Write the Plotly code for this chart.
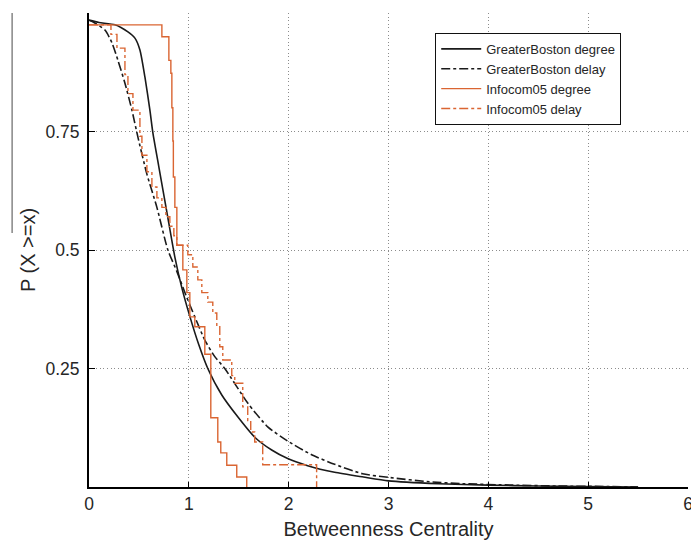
import plotly.graph_objects as go

# GreaterBoston degree (smooth curve)
gb_deg_x = [0, 0.1, 0.26, 0.39, 0.46, 0.51, 0.56, 0.61, 0.64, 0.7, 0.78, 0.86, 0.93, 1.01, 1.1, 1.19,
            1.33, 1.49, 1.66, 1.83, 1.99, 2.19, 2.46, 2.75, 3.0, 3.5, 4.0, 4.5, 5.0, 5.5]
gb_deg_y = [0.985, 0.98, 0.975, 0.96, 0.947, 0.922, 0.865, 0.795, 0.747, 0.675, 0.58, 0.485, 0.42, 0.36,
            0.30, 0.25, 0.194, 0.148, 0.105, 0.078, 0.06, 0.045, 0.031, 0.021, 0.013, 0.007, 0.004,
            0.002, 0.001, 0.0]

# GreaterBoston delay
gb_del_x = [0, 0.05, 0.16, 0.23, 0.29, 0.36, 0.43, 0.49, 0.58, 0.68, 0.79, 0.88, 0.97, 1.06, 1.16, 1.26,
            1.36, 1.59, 1.79, 1.99, 2.23, 2.46, 2.74, 3.01, 3.41, 3.74, 4.24, 4.7, 5.2, 5.5]
gb_del_y = [0.985, 0.98, 0.964, 0.937, 0.90, 0.852, 0.795, 0.738, 0.66, 0.59, 0.50, 0.455, 0.405, 0.359,
            0.31, 0.275, 0.25, 0.177, 0.127, 0.097, 0.068, 0.048, 0.028, 0.02, 0.011, 0.007, 0.004,
            0.002, 0.001, 0.0]

# Infocom05 degree (step function)
ic_deg_x = [0, 0.73, 0.80, 0.82, 0.83, 0.84, 0.845, 0.86, 0.88, 0.94, 0.98, 1.01, 1.06, 1.16, 1.22,
            1.29, 1.32, 1.38, 1.48, 1.58]
ic_deg_y = [0.975, 0.95, 0.90, 0.873, 0.80, 0.73, 0.654, 0.59, 0.51, 0.458, 0.41, 0.359, 0.338, 0.28,
            0.146, 0.095, 0.072, 0.046, 0.021, 0.0]

# Infocom05 delay (step function)
ic_del_x = [0, 0.22, 0.28, 0.36, 0.39, 0.44, 0.51, 0.53, 0.58, 0.63, 0.68, 0.73, 0.77, 0.81, 0.85, 0.88,
            0.99, 1.04, 1.09, 1.13, 1.19, 1.24, 1.28, 1.31, 1.34, 1.43, 1.46, 1.54, 1.59, 1.62, 1.66,
            1.74, 2.28]
ic_del_y = [0.975, 0.955, 0.926, 0.87, 0.83, 0.795, 0.74, 0.70, 0.665, 0.633, 0.61, 0.59, 0.57, 0.55,
            0.53, 0.51, 0.49, 0.464, 0.437, 0.41, 0.39, 0.367, 0.338, 0.296, 0.268, 0.235, 0.219, 0.169,
            0.14, 0.116, 0.095, 0.047, 0.0]

x_ticks = [0, 1, 2, 3, 4, 5, 6]
y_ticks = [0.25, 0.5, 0.75]
y_tick_labels = ["0.25", "0.5", "0.75"]

ORANGE = "#DA6532"
FONT = "Liberation Sans, Arial, sans-serif"
GRID = dict(showgrid=True, gridcolor="#8c8c8c", griddash="1px,2.6px", gridwidth=1)

fig = go.Figure()
fig.add_trace(go.Scatter(x=gb_deg_x, y=gb_deg_y, mode="lines", name="GreaterBoston degree",
                         line=dict(color="#1a1a1a", width=1.6, shape="spline", smoothing=0.6)))
fig.add_trace(go.Scatter(x=gb_del_x, y=gb_del_y, mode="lines", name="GreaterBoston delay",
                         line=dict(color="#1a1a1a", width=1.6, dash="dashdot", shape="spline", smoothing=0.6)))
fig.add_trace(go.Scatter(x=ic_deg_x, y=ic_deg_y, mode="lines", name="Infocom05 degree",
                         line=dict(color=ORANGE, width=1.4, shape="hv")))
fig.add_trace(go.Scatter(x=ic_del_x, y=ic_del_y, mode="lines", name="Infocom05 delay",
                         line=dict(color=ORANGE, width=1.4, dash="dashdot", shape="hv")))

fig.update_layout(
    width=691, height=541,
    margin=dict(l=89, r=3, t=13, b=54),
    paper_bgcolor="white", plot_bgcolor="white",
    font=dict(family=FONT, size=17, color="#262626"),
    showlegend=True,
    legend=dict(x=0.578, y=0.958, xanchor="left", yanchor="top",
                bordercolor="#111111", borderwidth=1, bgcolor="white",
                font=dict(family=FONT, size=13, color="#262626"),
                tracegroupgap=0, itemwidth=40),
    xaxis=dict(range=[0, 6], tickvals=x_ticks, ticks="inside", ticklen=5, tickcolor="black",
               showline=True, linecolor="black", linewidth=1.5, mirror=False, automargin=False,
               ticklabeloverflow="allow",
               zeroline=False, title=dict(text="Betweenness Centrality", font=dict(size=20), standoff=9),
               tickfont=dict(size=17.5), **GRID),
    yaxis=dict(range=[0, 1], tickvals=y_ticks, ticktext=y_tick_labels, ticks="inside", ticklen=6,
               tickcolor="black", showline=True, linecolor="black", linewidth=2, mirror=False,
               automargin=False, ticklabelstandoff=4,
               zeroline=False, title=dict(text="P (X >=x)", font=dict(size=20), standoff=4),
               tickfont=dict(size=17.5), **GRID),
)

# scanning artifact: thin grey vertical rule near the left edge of the page
fig.add_shape(type="rect", xref="paper", yref="paper", x0=-0.1295, x1=-0.1272, y0=0.536, y1=1.0,
              line=dict(width=0), fillcolor="#7a7a7a")

fig.write_html("out.html", config={"displayModeBar": False},
               post_script="document.body.style.margin='0';document.body.style.overflow='hidden';")
